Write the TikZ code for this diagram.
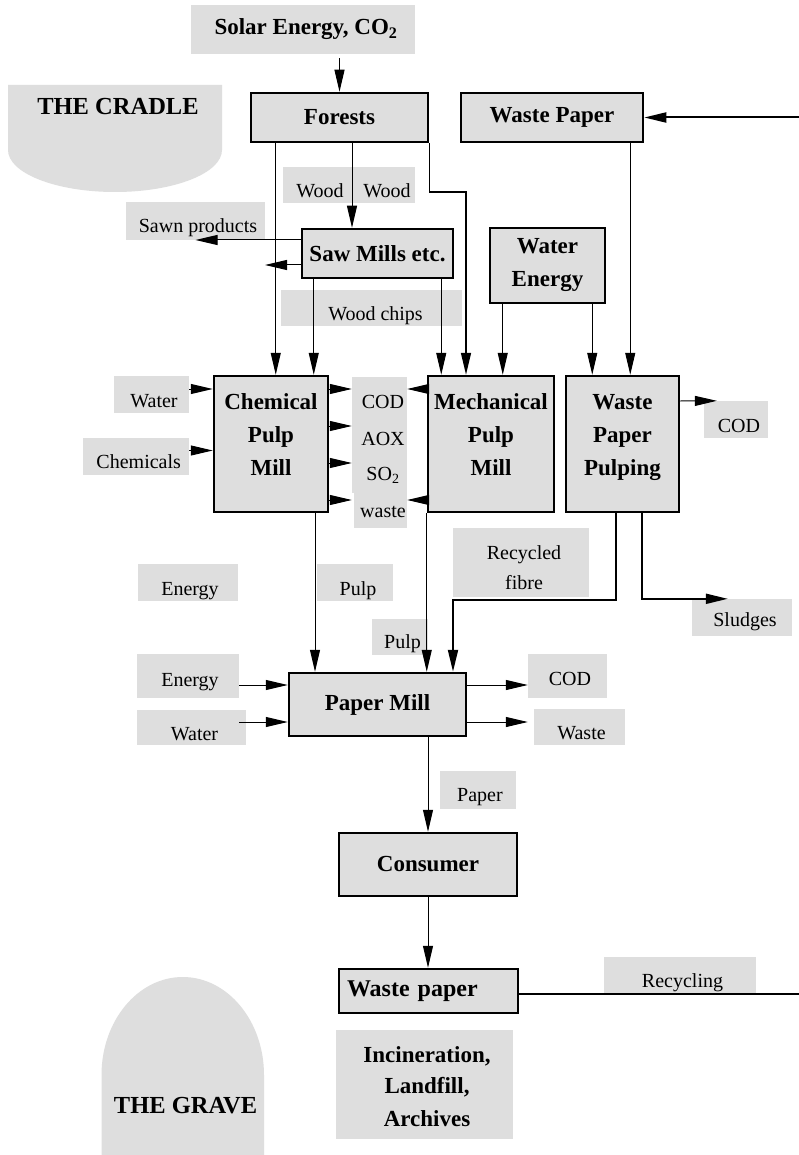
\documentclass[tikz,border=0pt]{standalone}
\usepackage{fontspec}
\setmainfont{Liberation Serif}
\usetikzlibrary{arrows.meta}
\definecolor{lgray}{RGB}{222,222,222}
\newcommand\nfont{\fontsize{20}{23}\selectfont}
\newcommand\bfont{\fontsize{23}{33}\selectfont\bfseries}
\newcommand\hfont{\fontsize{24.5}{28}\selectfont\bfseries}
\begin{document}
\begin{tikzpicture}[x=1pt,y=1pt,
  box/.style={draw=black,fill=lgray,line width=2.5pt,inner sep=0pt,align=center,font=\bfont},
  lab/.style={fill=lgray,inner sep=0pt,draw=none},
  txt/.style={anchor=base,inner sep=0pt,font=\nfont},
  btxt/.style={anchor=base,inner sep=0pt,font=\bfont},
  htxt/.style={anchor=base,inner sep=0pt,font=\hfont},
  arr/.style={line width=1pt,-{Triangle[length=22pt,width=10pt]}},
  tarr/.style={line width=2pt,-{Triangle[length=22pt,width=10pt]}},
  ln/.style={line width=1pt},
  tln/.style={line width=2pt}]
\fill[white] (0,0) rectangle (799,-1155);
\useasboundingbox (0,0) rectangle (799,-1155);

% cradle and grave shapes
\fill[lgray] (8,-85) -- (222,-85) -- (222,-150) arc[start angle=0,end angle=-180,x radius=107pt,y radius=42pt] -- cycle;
\fill[lgray] (101.5,-1155) -- (101.5,-1075) arc[start angle=180,end angle=0,x radius=81.25pt,y radius=98pt] -- (264,-1155) -- cycle;
\node[htxt] (cradleT) at (118,-115) {THE CRADLE};
\node[htxt] (graveT) at (185.5,-1113) {THE GRAVE};

% gray labels
\node[lab,minimum width=224pt,minimum height=49pt] (solar) at (303,-29.5) {};
\node[lab,minimum width=132pt,minimum height=36pt] (woodL) at (349,-185) {};
\node[lab,minimum width=139pt,minimum height=38pt] (sawn) at (195.5,-221) {};
\node[lab,minimum width=181pt,minimum height=36pt] (chipsL) at (371.5,-308) {};
\node[lab,minimum width=75pt,minimum height=37pt] (waterL) at (151.5,-394.5) {};
\node[lab,minimum width=106pt,minimum height=37pt] (chemsL) at (136,-456.5) {};
\node[lab,minimum width=55pt,minimum height=116pt] (emisL) at (379.5,-435) {};
\node[lab,minimum width=53pt,minimum height=35pt] (wasteL) at (380.5,-510.5) {};
\node[lab,minimum width=64pt,minimum height=37pt] (codR) at (736,-419.5) {};
\node[lab,minimum width=100pt,minimum height=37pt] (energyF) at (188,-582.5) {};
\node[lab,minimum width=76pt,minimum height=37pt] (pulp1) at (355,-582.5) {};
\node[lab,minimum width=136pt,minimum height=69pt] (recL) at (521,-562.5) {};
\node[lab,minimum width=100pt,minimum height=37pt] (sludL) at (742,-617.5) {};
\node[lab,minimum width=56pt,minimum height=36pt] (pulp2) at (400,-637) {};
\node[lab,minimum width=102pt,minimum height=44pt] (energy2) at (188,-676) {};
\node[lab,minimum width=109pt,minimum height=35pt] (water2) at (191.5,-727.5) {};
\node[lab,minimum width=79pt,minimum height=44pt] (cod2) at (567.5,-676) {};
\node[lab,minimum width=91pt,minimum height=36pt] (waste2) at (579.5,-727) {};
\node[lab,minimum width=76pt,minimum height=38pt] (paperL) at (478,-790) {};
\node[lab,minimum width=152pt,minimum height=36pt] (recyL) at (680,-975) {};
\node[lab,minimum width=177pt,minimum height=109pt] (incL) at (424.5,-1084.5) {};

% label texts
\node[btxt] (solarT) at (306,-35) {Solar Energy, CO\textsubscript{2}};
\node[txt] (woodT1) at (320,-198) {Wood};
\node[txt] (woodT2) at (387,-198) {Wood};
\node[txt] (sawnT) at (198,-233) {Sawn products};
\node[txt] (chipsT) at (375.5,-320) {Wood chips};
\node[txt] (waterT) at (154,-407) {Water};
\node[txt] (chemsT) at (138.7,-468) {Chemicals};
\node[txt] (codT) at (383,-408) {COD};
\node[txt] (aoxT) at (383,-445) {AOX};
\node[txt] (so2T) at (383,-480) {SO\textsubscript{2}};
\node[txt] (wasteT) at (383,-517) {waste};
\node[txt] (codRT) at (739,-432) {COD};
\node[txt] (energyFT) at (190,-595) {Energy};
\node[txt] (pulp1T) at (358,-595) {Pulp};
\node[txt] (recT1) at (524,-559) {Recycled};
\node[txt] (recT2) at (524,-589) {fibre};
\node[txt] (sludT) at (745,-626) {Sludges};
\node[txt] (pulp2T) at (402.5,-648) {Pulp};
\node[txt] (energy2T) at (190,-686) {Energy};
\node[txt] (water2T) at (194.5,-740.5) {Water};
\node[txt] (cod2T) at (570,-685) {COD};
\node[txt] (waste2T) at (581.5,-739) {Waste};
\node[txt] (paperT) at (480,-801.5) {Paper};
\node[txt] (recyT) at (682.5,-987) {Recycling};
\node[btxt] (incT1) at (427,-1062) {Incineration,};
\node[btxt] (incT2) at (427,-1093) {Landfill,};
\node[btxt] (incT3) at (427,-1126) {Archives};

% boxes
\node[box,minimum width=177pt,minimum height=49pt] (forests) at (339.5,-117.5) {Forests};
\node[box,minimum width=182pt,minimum height=49pt] (wpaper) at (552,-117.5) {Waste Paper};
\node[box,minimum width=151pt,minimum height=49pt] (saw) at (377.5,-253.5) {Saw Mills etc.};
\node[box,minimum width=115pt,minimum height=75pt] (wen) at (547.5,-265.5) {Water\\Energy};
\node[box,minimum width=114pt,minimum height=136pt] (chem) at (271,-444) {Chemical\\Pulp\\Mill\\[-14pt]\mbox{}};
\node[box,minimum width=126pt,minimum height=136pt] (mech) at (491,-444) {Mechanical\\Pulp\\Mill\\[-14pt]\mbox{}};
\node[box,minimum width=113pt,minimum height=136pt] (wpp) at (622.5,-444) {Waste\\Paper\\Pulping\\[-14pt]\mbox{}};
\node[box,minimum width=177pt,minimum height=63pt] (pm) at (377.5,-704.5) {Paper Mill};
\node[box,minimum width=178pt,minimum height=63pt] (cons) at (428,-864.5) {Consumer};
\node[box,minimum height=44pt,text width=163pt,inner xsep=8pt,align=left,font=\fontsize{24}{28}\selectfont\bfseries] (wp2) at (428.5,-991) {Waste paper};

% free ends
\coordinate (rin) at (799,-117.5);
\coordinate (rout) at (799,-994);
\coordinate (sawout) at (265,-265);

% connectors
\draw[arr] ([yshift=-4pt]solar.south -| forests.north) -- (forests.north);
\draw[arr] ([xshift=26pt]forests.south west) -- ([xshift=26pt]forests.south west |- chem.north);
\draw[arr] ([xshift=12.5pt]forests.south) -- ([xshift=12.5pt]forests.south |- saw.north);
\draw[arr,line width=1.5pt] (forests.south east) -- ++(0,-49) -| ([xshift=-25pt]mech.north);
\draw[tarr] (rin) -- (wpaper.east);
\draw[arr] ([yshift=13.5pt]saw.west) -- ([yshift=13.5pt]saw.west -| sawn.center);
\draw[arr] (saw.west |- sawout) -- (sawout);
\draw[arr] ([xshift=13pt]saw.south west) -- ([xshift=13pt]saw.south west |- chem.north);
\draw[arr] ([xshift=-13pt]saw.south east) -- ([xshift=-13pt]saw.south east |- mech.north);
\draw[arr] ([xshift=14pt]wen.south west) -- ([xshift=14pt]wen.south west |- mech.north);
\draw[arr] ([xshift=-14pt]wen.south east) -- ([xshift=-14pt]wen.south east |- wpp.north);
\draw[arr] ([xshift=-14pt]wpaper.south east) -- ([xshift=-14pt]wpaper.south east |- wpp.north);
\draw[arr] ([yshift=5.5pt]waterL.east) -- ([yshift=5.5pt]waterL.east -| chem.west);
\draw[arr] ([yshift=6pt]chemsL.east) -- ([yshift=6pt]chemsL.east -| chem.west);
\foreach \d in {55,18,-19,-56}
  \draw[arr] ([yshift=\d pt]chem.east) -- ([yshift=\d pt]chem.east -| emisL.west);
\foreach \d in {55,-56}
  \draw[arr] ([yshift=\d pt]mech.west) -- ([yshift=\d pt]mech.west -| emisL.east);
\draw[arr] ([yshift=43pt]wpp.east) -- ([xshift=13pt]codR.north west);
\draw[arr] ([xshift=44pt]chem.south) -- ([xshift=44pt]chem.south |- pm.north);
\draw[arr] (mech.south west) -- (mech.south west |- pm.north);
\draw[tarr] ([xshift=-6.5pt]wpp.south) -- ++(0,-87) -| ([xshift=75.5pt]pm.north);
\draw[tarr] ([xshift=19pt]wpp.south) |- ([xshift=36pt]sludL.north west);
\draw[arr] ([yshift=-9pt]energy2.east) -- ([yshift=-9pt]energy2.east -| pm.west);
\draw[arr] ([xshift=-7pt,yshift=5.5pt]water2.east) -- ([yshift=5.5pt]water2.east -| pm.west);
\draw[arr] ([yshift=19.5pt]pm.east) -- ([yshift=19.5pt]pm.east -| cod2.west);
\draw[arr] ([yshift=-17.5pt]pm.east) -- ([yshift=-17.5pt]pm.east -| cod2.west);
\draw[arr] (pm.south -| cons.north) -- (cons.north);
\draw[arr] (cons.south) -- (cons.south |- wp2.north);
\draw[tln] ([yshift=-3pt]wp2.east) -- (rout);
\end{tikzpicture}
\end{document}
